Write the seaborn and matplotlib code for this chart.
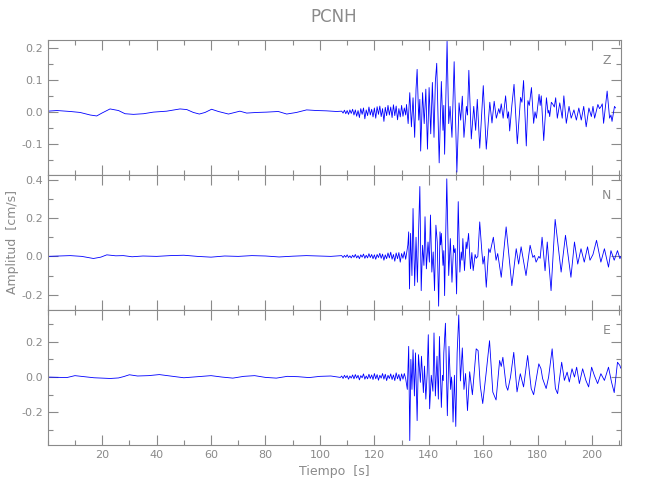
"""
PCNH three-component velocity record (Z, N, E).
Peaks and troughs were read off the reference seismogram.
"""

import numpy as np
import pandas as pd
import matplotlib
matplotlib.use("Agg")
import matplotlib.pyplot as plt
from matplotlib.ticker import MultipleLocator, FormatStrFormatter
import seaborn as sns

sns.set_style("ticks")
plt.rcParams["font.family"] = ["DejaVu Sans"]

# ---------------------------------------------------------------
# DATA  (time in s, amplitude in cm/s)
# ---------------------------------------------------------------
station = "PCNH"
components = ["Z", "N", "E"]

# regular sampling grid used for the pre-event noise
noise_t = np.arange(108.0, 132.0, 0.5)

# --- Z ---
z_quiet_t = [0.0, 3.4, 8.3, 11.9, 15.6, 18.0, 19.9, 22.9, 26.0, 28.4, 31.5, 35.2,
             38.8, 43.7, 48.6, 51.1, 53.5, 55.7, 57.8, 60.2, 62.7, 66.4, 70.6,
             73.1, 76.8, 80.4, 84.7, 87.8, 91.4, 95.1, 98.8, 102.4, 106.1]
z_quiet_v = [0.002, 0.004, 0.001, -0.002, -0.010, -0.013, -0.004, 0.009, 0.004,
             -0.006, -0.008, -0.006, -0.001, 0.002, 0.009, 0.007, -0.002, -0.007,
             -0.002, 0.008, 0.001, -0.007, 0.002, -0.004, -0.002, -0.001, 0.001,
             -0.007, -0.002, 0.006, 0.004, 0.003, 0.001]
z_noise_v = [0.002, -0.004, 0.005, -0.006, 0.004, -0.008, 0.006, -0.005, 0.008,
             -0.010, 0.006, -0.014, 0.004, -0.018, 0.010, -0.008, 0.012, -0.022,
             0.006, -0.012, 0.015, -0.010, 0.008, -0.016,
             0.012, -0.020, 0.016, -0.008, 0.018, -0.015, 0.010, -0.030, 0.014,
             -0.012, 0.020, -0.010,
             0.015, -0.018, 0.022, -0.012, 0.018, -0.025, 0.010, -0.016, 0.020,
             -0.014, 0.012, -0.010]
z_main_t = [131.8, 132.4, 133.0, 133.6, 134.2, 134.8, 135.3, 135.7, 136.3, 136.7,
            137.0, 137.7, 138.3, 138.9, 139.5, 140.1, 140.7, 141.3, 141.9, 142.4,
            142.9, 143.8, 144.6, 145.2, 145.5, 145.8, 146.7, 147.3, 147.8, 148.5,
            149.3, 150.3, 151.1, 151.7, 152.3, 152.9, 153.8, 154.2, 154.7, 155.6,
            156.5, 157.2, 157.8, 158.7, 160.0, 161.1, 162.4, 163.2, 164.0, 164.8,
            165.7, 166.1, 166.6, 167.3, 168.2, 168.9, 169.3, 169.7, 170.5, 171.3,
            172.5, 173.7, 174.2, 174.8, 175.8, 176.4, 176.9, 177.7, 178.5, 179.0,
            179.5, 180.5, 180.9, 181.3, 182.2, 183.2, 183.8, 184.1, 184.4, 185.0,
            185.6, 186.1, 186.6, 187.2, 188.1, 189.0, 189.6, 190.5, 191.5, 192.3,
            193.3, 194.2, 195.1, 196.0, 196.9, 197.8, 198.8, 199.7, 200.3, 200.9,
            202.1, 202.7, 203.3, 203.7, 204.2, 205.5, 206.4, 206.9, 207.3, 208.2,
            208.6]
z_main_v = [0.023, -0.037, 0.060, -0.047, 0.044, -0.080, 0.071, 0.133, -0.026, 0.039,
            -0.123, 0.060, -0.037, 0.071, -0.117, 0.076, -0.069, 0.092, -0.080, 0.095,
            0.152, -0.160, 0.095, -0.058, 0.020, -0.133, 0.221, -0.037, 0.017, -0.080,
            0.157, -0.189, 0.028, -0.026, 0.049, -0.080, 0.017, -0.010, 0.130, -0.085,
            0.017, -0.058, 0.039, -0.114, 0.082, -0.117, 0.030, -0.035, 0.033, -0.020,
            0.010, -0.005, 0.025, -0.020, 0.050, -0.020, 0.000, -0.060, 0.020, 0.086,
            -0.100, 0.045, 0.030, 0.098, -0.107, 0.035, 0.020, 0.076, -0.036, 0.000,
            -0.020, 0.055, 0.020, 0.050, -0.090, 0.044, -0.004, 0.005, -0.015, 0.030,
            0.023, 0.015, 0.044, -0.020, 0.028, -0.020, 0.050, -0.036, 0.017, -0.020,
            0.006, -0.026, 0.012, -0.026, 0.017, -0.047, 0.012, -0.015, 0.017, -0.020,
            0.023, 0.010, 0.017, 0.025, -0.036, 0.065, -0.020, -0.010, -0.030, 0.017,
            0.012]

# --- N ---
n_quiet_t = [0.0, 4.0, 8.3, 12.5, 16.8, 19.5, 21.7, 25.0, 27.8, 31.0, 35.0, 40.0,
             45.0, 50.0, 55.0, 60.0, 65.0, 70.0, 75.0, 80.0, 85.0, 90.0, 95.0,
             100.0, 104.0, 107.5]
n_quiet_v = [0.000, 0.002, 0.004, 0.000, -0.011, -0.004, 0.008, 0.003, 0.004,
             -0.002, 0.002, 0.000, 0.004, 0.006, 0.000, -0.004, 0.002, 0.000,
             0.004, 0.002, -0.003, 0.001, 0.004, 0.002, 0.000, 0.003]
n_noise_v = [0.004, -0.006, 0.005, -0.004, 0.008, -0.006, 0.003, -0.008, 0.006,
             -0.005, 0.010, -0.008, 0.004, -0.012, 0.008, -0.004, 0.012, -0.010,
             0.006, -0.008, 0.014, -0.006, 0.010, -0.012,
             0.008, -0.015, 0.010, -0.006, 0.016, -0.010, 0.012, -0.020, 0.008,
             -0.012, 0.018, -0.008,
             0.022, -0.015, 0.010, -0.025, 0.018, -0.012, 0.020, -0.030, 0.015,
             -0.010, 0.025, -0.015]
n_main_t = [132.3, 132.6, 132.9, 133.3, 133.8, 134.2, 134.8, 135.3, 135.8, 136.2,
            136.7, 137.2, 137.7, 138.2, 138.6, 139.1, 139.7, 140.2, 140.6, 141.1,
            141.6, 142.1, 142.6, 143.1, 143.6, 144.1, 144.35, 144.6, 145.2, 145.5,
            145.8, 146.1, 146.6, 147.3, 147.9, 148.5, 149.1, 149.4, 149.7, 150.2,
            150.8, 151.4, 151.9, 152.2, 152.5, 153.1, 153.7, 154.0, 154.6, 155.3,
            155.8, 156.3, 157.0, 157.4, 158.0, 158.7, 159.5, 159.9, 160.4, 161.1,
            162.0, 162.5, 163.7, 164.7, 165.3, 166.6, 168.4, 170.5, 172.1, 173.0,
            173.9, 175.7, 177.2, 178.2, 178.8, 179.4, 180.4, 180.9, 181.6, 182.7,
            183.5, 184.9, 186.4, 188.6, 190.2, 192.2, 193.5, 194.7, 195.9, 197.1,
            198.3, 199.2, 200.3, 201.6, 203.2, 204.5, 206.0, 206.9, 208.1, 209.3,
            210.2, 210.5]
n_main_v = [0.060, 0.128, -0.170, 0.120, -0.100, 0.250, -0.153, 0.100, -0.135, 0.110,
            0.365, -0.179, 0.058, -0.047, 0.207, -0.065, 0.075, -0.030, 0.216, -0.082,
            0.023, -0.179, 0.163, 0.075, -0.260, 0.128, 0.060, 0.120, -0.047, 0.030,
            -0.205, 0.040, 0.405, -0.100, 0.093, -0.135, 0.058, 0.020, 0.040, -0.196,
            0.286, -0.082, 0.023, -0.020, 0.093, -0.074, 0.075, 0.040, 0.120, -0.065,
            0.020, -0.074, 0.010, -0.010, 0.000, 0.180, 0.020, -0.040, 0.000, -0.161,
            0.040, 0.020, 0.100, -0.020, 0.015, -0.109, 0.154, -0.153, 0.040, -0.040,
            0.050, -0.100, 0.058, -0.005, 0.005, -0.030, 0.000, -0.010, 0.100, -0.075,
            0.075, -0.179, 0.193, -0.082, 0.110, -0.109, 0.075, -0.040, 0.040, -0.030,
            0.050, -0.020, 0.010, 0.084, -0.030, 0.040, -0.056, 0.030, -0.020, 0.030,
            -0.012, 0.000]

# --- E ---
e_quiet_t = [0.0, 4.0, 7.0, 10.0, 13.5, 17.0, 20.0, 23.0, 26.0, 28.0, 30.0, 33.0,
             37.0, 41.0, 45.0, 50.0, 55.0, 60.0, 64.0, 68.0, 72.0, 76.0, 80.0,
             84.0, 88.0, 92.0, 96.0, 100.0, 104.0, 107.5]
e_quiet_v = [0.000, -0.002, -0.003, 0.008, 0.002, -0.004, -0.006, -0.008, -0.005,
             0.003, 0.013, 0.006, 0.008, 0.014, 0.006, -0.004, 0.002, 0.008, 0.000,
             -0.006, 0.004, 0.008, -0.002, -0.006, 0.004, 0.002, -0.003, 0.004,
             0.006, -0.002]
e_noise_v = [0.006, -0.008, 0.010, -0.004, 0.008, -0.012, 0.006, -0.006, 0.012,
             -0.010, 0.014, -0.006, 0.010, -0.016, 0.008, -0.004, 0.018, -0.012,
             0.006, -0.010, 0.016, -0.008, 0.012, -0.014,
             0.020, -0.010, 0.014, -0.018, 0.010, -0.006, 0.020, -0.012, 0.016,
             -0.020, 0.010, -0.008,
             0.018, -0.014, 0.012, -0.020, 0.024, -0.010, 0.015, -0.022, 0.018,
             -0.012, 0.020, -0.010]
e_main_t = [132.1, 132.6, 133.0, 133.4, 133.8, 134.2, 134.7, 135.1, 135.7, 136.2,
            136.9, 137.3, 138.0, 138.4, 138.9, 139.4, 139.8, 140.3, 140.9, 141.5,
            141.9, 142.4, 143.0, 143.5, 143.9, 144.6, 145.0, 145.3, 145.5, 146.1,
            146.8, 147.4, 148.0, 148.3, 148.5, 148.9, 149.4, 149.9, 150.4, 151.0,
            151.6, 152.3, 152.9, 153.5, 154.2, 155.0, 156.0, 157.4, 158.1, 158.9,
            159.8, 161.1, 162.3, 163.5, 164.7, 166.0, 166.6, 167.2, 168.4, 169.0,
            170.0, 171.2, 172.4, 173.6, 174.8, 176.3, 177.6, 178.5, 180.4, 181.2,
            181.8, 183.1, 184.0, 185.3, 186.5, 187.3, 188.8, 189.8, 190.8, 191.6,
            192.6, 193.5, 194.3, 195.3, 196.5, 197.7, 198.7, 199.8, 200.8, 202.0,
            203.2, 204.5, 206.0, 207.1, 208.1, 209.3, 210.2, 210.5]
e_main_v = [-0.070, 0.174, -0.360, 0.100, -0.070, 0.155, -0.107, 0.137, -0.247, 0.127,
            -0.030, 0.118, -0.088, 0.062, -0.125, 0.024, 0.240, -0.180, 0.010, -0.080,
            0.250, -0.107, 0.118, -0.125, 0.230, -0.172, 0.010, -0.020, 0.137, 0.305,
            -0.219, 0.174, -0.070, 0.000, -0.030, -0.255, 0.010, -0.280, 0.137, 0.352,
            -0.022, 0.165, -0.070, 0.020, -0.190, 0.030, -0.100, 0.160, 0.150, -0.050,
            -0.150, 0.030, 0.206, -0.085, -0.130, 0.094, 0.060, 0.112, -0.050, -0.075,
            0.000, 0.140, -0.084, 0.019, -0.056, 0.122, -0.065, -0.100, 0.075, 0.047,
            -0.009, -0.065, 0.000, 0.160, -0.065, -0.094, 0.084, -0.019, 0.028, -0.028,
            0.047, 0.000, 0.056, -0.037, 0.047, -0.019, -0.056, 0.056, 0.009, -0.037,
            0.019, -0.019, 0.056, -0.028, -0.088, 0.084, 0.065, 0.050]

# axis ranges / tick steps per component
y_limits = {"Z": (-0.198, 0.225), "N": (-0.28, 0.425), "E": (-0.385, 0.38)}
y_major = {"Z": 0.1, "N": 0.2, "E": 0.2}
y_minor = {"Z": 0.05, "N": 0.1, "E": 0.1}

traces = {
    "Z": (z_quiet_t, z_quiet_v, z_noise_v, z_main_t, z_main_v),
    "N": (n_quiet_t, n_quiet_v, n_noise_v, n_main_t, n_main_v),
    "E": (e_quiet_t, e_quiet_v, e_noise_v, e_main_t, e_main_v),
}

# ---------------------------------------------------------------
# PLOT
# ---------------------------------------------------------------
GREY = "#8a8a8a"

fig, axes = plt.subplots(3, 1, figsize=(6.5, 5), dpi=100, sharex=True)
fig.subplots_adjust(left=0.0734, right=0.955, top=0.92, bottom=0.11, hspace=0)

for ax, comp in zip(axes, components):
    qt, qv, nv, mt, mv = traces[comp]
    df = pd.DataFrame({
        "t": np.concatenate([qt, noise_t, mt]),
        "amp": np.concatenate([qv, nv, mv]),
    })
    sns.lineplot(data=df, x="t", y="amp", ax=ax, color="#0000ff",
                 linewidth=0.6, estimator=None, sort=False)

    ax.set_xlim(0, 210.5)
    ax.set_ylim(*y_limits[comp])
    ax.yaxis.set_major_locator(MultipleLocator(y_major[comp]))
    ax.yaxis.set_minor_locator(MultipleLocator(y_minor[comp]))
    ax.yaxis.set_major_formatter(FormatStrFormatter("%.1f"))
    ax.set_xticks(np.arange(20, 201, 20))
    ax.xaxis.set_minor_locator(MultipleLocator(10))
    ax.set_xlabel("")
    ax.set_ylabel("")

    for sp in ax.spines.values():
        sp.set_visible(True)
        sp.set_color(GREY)
        sp.set_linewidth(0.8)
    ax.tick_params(which="both", direction="in", top=True, right=True,
                   color=GREY, labelcolor=GREY, labelsize=8, width=0.8)
    ax.tick_params(which="major", length=7)
    ax.tick_params(which="minor", length=3.5)

    ax.text(0.975, 0.845, comp, transform=ax.transAxes, ha="center",
            va="center", fontsize=9, color=GREY)

for ax in axes[:-1]:
    ax.tick_params(labelbottom=False)

axes[-1].set_xlabel("Tiempo  [s]", color=GREY, fontsize=9, labelpad=4)
fig.text(0.02, 0.516, "Amplitud  [cm/s]", rotation=90, ha="center",
         va="center", color=GREY, fontsize=9)
fig.text(0.514, 0.965, station, ha="center", va="center", color=GREY,
         fontsize=12)

plt.savefig("out.png", dpi=100)
plt.close()
